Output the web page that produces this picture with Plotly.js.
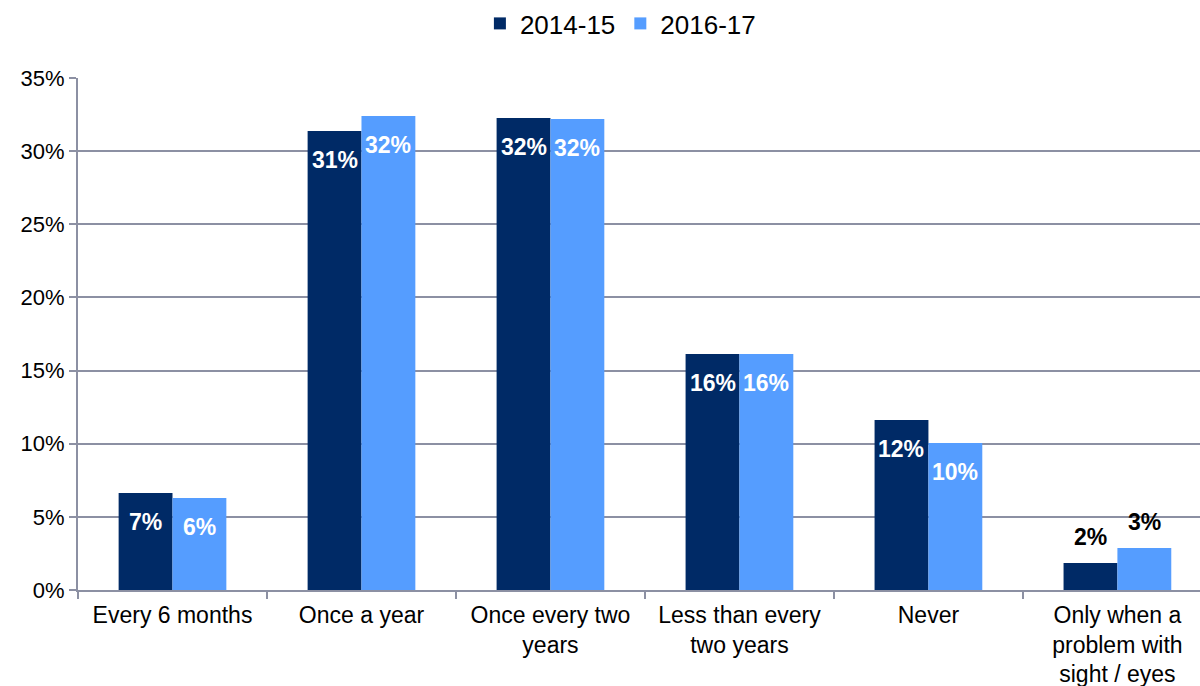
<!DOCTYPE html>
<html><head><meta charset="utf-8">
<script src="https://cdn.plot.ly/plotly-3.0.1.min.js"></script>
<style>html,body{margin:0;padding:0;background:#fff}#chart{width:1200px;height:686px}</style>
</head><body><div id="chart"></div>
<script>
const categories = ["Every 6 months", "Once a year", "Once every two<br>years", "Less than every<br>two years", "Never", "Only when a<br>problem with<br>sight / eyes"];
const series1Name = "2014-15";
const series2Name = "2016-17";
const values2014 = [6.63, 31.38, 32.27, 16.13, 11.62, 1.85];
const values2016 = [6.29, 32.40, 32.20, 16.13, 10.05, 2.87];
const labelInside = [true, true, true, true, true, false];
const yTicks = [0, 5, 10, 15, 20, 25, 30, 35];

const fontFam = '"Liberation Sans", Arial, sans-serif';
const W = 1200, H = 686, ML = 78, MR = 0, MT = 78, MB = 96;
const xRange = [-0.5, 5.437];
const bargap = 0.43;

function tr(name, vals, color) {
  return {
    type: 'bar', name: name, x: categories, y: vals,
    marker: {color: color},
    hoverinfo: 'skip'
  };
}

// data labels placed via axis scales
const pxPerCat = (W - ML - MR) / (xRange[1] - xRange[0]);
const barPx = pxPerCat * (1 - bargap) / 2;
const annotations = [];
[[values2014, -barPx / 2], [values2016, barPx / 2]].forEach(([vals, shift]) => {
  vals.forEach((v, i) => {
    const inside = labelInside[i];
    annotations.push({
      x: categories[i], y: v, xref: 'x', yref: 'y',
      xshift: shift, yshift: inside ? -14 : 11,
      yanchor: inside ? 'top' : 'bottom', xanchor: 'center',
      showarrow: false,
      text: '<b>' + Math.round(v) + '%</b>',
      font: {family: fontFam, size: 23, color: inside ? '#ffffff' : '#000000'}
    });
  });
});

const data = [tr(series1Name, values2014, '#002a66'), tr(series2Name, values2016, '#559dff')];
const layout = {
  width: W, height: H,
  margin: {l: ML, r: MR, t: MT, b: MB},
  paper_bgcolor: '#fff', plot_bgcolor: '#fff',
  barmode: 'group', bargap: bargap, bargroupgap: 0,
  font: {family: fontFam, size: 22, color: '#000'},
  showlegend: true,
  legend: {orientation: 'h', x: 0.517, xanchor: 'center', xref: 'container', y: 1.0, yref: 'container', yanchor: 'top',
           font: {size: 26, color: '#000'}, itemwidth: 30, traceorder: 'normal'},
  annotations: annotations,
  xaxis: {
    range: xRange,
    showgrid: false, zeroline: false,
    showline: true, linecolor: '#8c90a3', linewidth: 2,
    ticks: 'outside', tickson: 'boundaries', ticklen: 7, tickcolor: '#8c90a3', tickwidth: 2,
    ticklabelstandoff: 3,
    tickfont: {size: 23, color: '#000'}, automargin: false, fixedrange: true
  },
  yaxis: {
    range: [0, 35], tickvals: yTicks, ticktext: yTicks.map(v => v + '%'),
    showgrid: true, gridcolor: '#8c90a3', gridwidth: 2,
    zeroline: false, showline: true, linecolor: '#8c90a3', linewidth: 2,
    ticks: 'outside', ticklen: 7, tickcolor: '#8c90a3', tickwidth: 2,
    tickfont: {size: 22, color: '#000'}, automargin: false, fixedrange: true
  }
};
Plotly.newPlot('chart', data, layout, {displayModeBar: false, staticPlot: true});
</script></body></html>
